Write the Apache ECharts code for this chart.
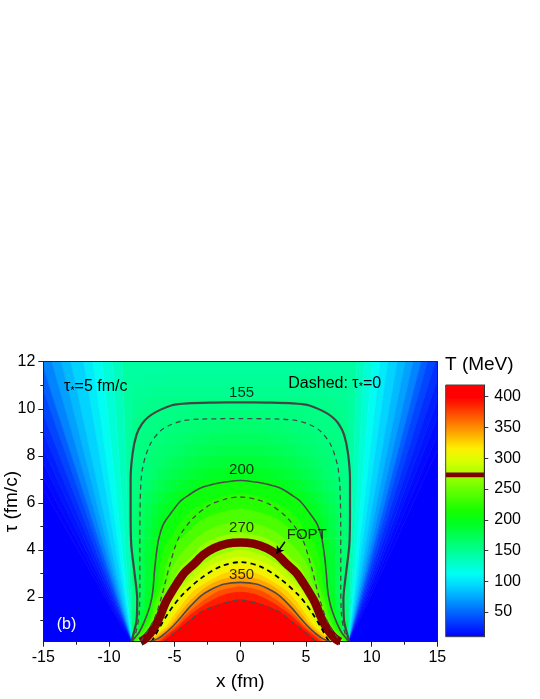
<!DOCTYPE html>
<html><head><meta charset="utf-8">
<script src="https://cdn.jsdelivr.net/npm/echarts@6/dist/echarts.min.js"></script>
<style>html,body{margin:0;padding:0;background:#fff}#c{width:540px;height:699px}</style>
</head><body><div id="c"></div>
<script>
// ---- interior grid of cell centres (fm, fm/c) ----
const xCenters = [-8,-7.5,-7,-6.5,-6,-5.5,-5,-4.5,-4,-3.5,-3,-2.5,-2,-1.5,-1,-0.5,0,0.5,1,1.5,2,2.5,3,3.5,4,4.5,5,5.5,6,6.5,7,7.5,8];
const tauCenters = [0.25,0.75,1.25,1.75,2.25,2.75,3.25,3.75,4.25,4.75,5.25,5.75,6.25,6.75,7.25,7.75,8.25,8.75,9.25,9.75,10.25,10.75,11.25,11.75];

// ---- temperature T (MeV) inside the fireball, one row per tau ----
const row_0_25 = [210,260,290,335,370,400,415,425,430,430,430,430,430,430,430,430,430,430,430,430,430,430,430,430,430,425,415,400,370,335,290,260,210];
const row_0_75 = [170,198,235,270,300,328,360,397,405,412,418,422,425,427,428,428,428,428,428,427,425,422,418,412,405,397,360,328,300,270,235,198,170];
const row_1_25 = [160,183,206,245,272,296,320,345,370,395,402,408,413,417,419,420,420,420,419,417,413,408,402,395,370,345,320,296,272,245,206,183,160];
const row_1_75 = [155,175,195,228,258,278,298,314,334,352,366,380,390,397,401,404,405,404,401,397,390,380,366,352,334,314,298,278,258,228,195,175,155];
const row_2_25 = [155,172,190,210,236,258,276,292,309,321,335,349,360,368,374,377,378,377,374,368,360,349,335,321,309,292,276,258,236,210,190,172,155];
const row_2_75 = [160,173,188,204,225,243,258,271,280,291,302,313,325,333,339,342,343,342,339,333,325,313,302,291,280,271,258,243,225,204,188,173,160];
const row_3_25 = [162,174,188,202,220,236,249,260,268,274,283,291,298,304,308,311,312,311,308,304,298,291,283,274,268,260,249,236,220,202,188,174,162];
const row_3_75 = [163,175,187,199,213,227,238,248,255,262,268,273,278,282,285,287,288,287,285,282,278,273,268,262,255,248,238,227,213,199,187,175,163];
const row_4_25 = [164,174,185,196,207,218,228,236,243,249,255,260,264,267,270,271,272,271,270,267,264,260,255,249,243,236,228,218,207,196,185,174,164];
const row_4_75 = [163,171,180,190,200,207,215,223,230,236,242,247,251,254,256,257,258,257,256,254,251,247,242,236,230,223,215,207,200,190,180,171,163];
const row_5_25 = [162,170,178,187,195,202,208,214,220,225,230,234,238,240,242,243,244,243,242,240,238,234,230,225,220,214,208,202,195,187,178,170,162];
const row_5_75 = [161,168,175,182,189,195,200,205,210,214,218,222,225,227,229,230,230,230,229,227,225,222,218,214,210,205,200,195,189,182,175,168,161];
const row_6_25 = [159,165,171,177,183,188,193,197,201,204,207,210,213,215,217,218,218,218,217,215,213,210,207,204,201,197,193,188,183,177,171,165,159];
const row_6_75 = [157,161,166,171,176,180,184,188,191,194,197,199,201,203,204,205,205,205,204,203,201,199,197,194,191,188,184,180,176,171,166,161,157];
const row_7_25 = [155,158,162,166,170,174,177,180,183,186,188,190,192,193,194,195,195,195,194,193,192,190,188,186,183,180,177,174,170,166,162,158,155];
const row_7_75 = [154,157,160,163,166,169,172,174,177,179,181,182,184,185,185,186,186,186,185,185,184,182,181,179,177,174,172,169,166,163,160,157,154];
const row_8_25 = [155,157,159,161,162,164,166,168,170,172,174,175,176,177,178,178,178,178,178,177,176,175,174,172,170,168,166,164,162,161,159,157,155];
const row_8_75 = [154,156,157,158,159,161,162,164,165,167,168,169,170,170,171,171,171,171,171,170,170,169,168,167,165,164,162,161,159,158,157,156,154];
const row_9_25 = [153,155,156,156,157,158,159,160,161,162,163,163,164,164,165,165,165,165,165,164,164,163,163,162,161,160,159,158,157,156,156,155,153];
const row_9_75 = [152,154,155,155,155,156,156,157,157,158,158,159,159,160,160,160,160,160,160,160,159,159,158,158,157,157,156,156,155,155,155,154,152];
const row_10_25 = [150,151,152,153,153,154,154,155,155,155,155,155,155,155,155,155,155,155,155,155,155,155,155,155,155,155,154,154,153,153,152,151,150];
const row_10_75 = [148,149,149,150,150,150,151,151,151,151,151,151,151,151,151,151,151,151,151,151,151,151,151,151,151,151,151,150,150,150,149,149,148];
const row_11_25 = [146,146,147,147,147,148,148,148,148,148,148,148,148,148,148,148,148,148,148,148,148,148,148,148,148,148,148,148,147,147,147,146,146];
const row_11_75 = [143,144,144,144,145,145,145,145,145,145,145,145,145,145,145,145,145,145,145,145,145,145,145,145,145,145,145,145,145,144,144,144,143];
const T_rows = [row_0_25,row_0_75,row_1_25,row_1_75,row_2_25,row_2_75,row_3_25,row_3_75,row_4_25,row_4_75,row_5_25,row_5_75,row_6_25,row_6_75,row_7_25,row_7_75,row_8_25,row_8_75,row_9_25,row_9_75,row_10_25,row_10_75,row_11_25,row_11_75];

// ---- rarefaction fans: T is constant along rays from the fireball edge ----
const fanOriginX = [-8.25, 8.25];
const fanRaySpeedLeft  = [0,0.06,0.125,0.19,0.25,0.31,0.39,0.45,0.51,0.575,0.625,0.69,0.75,0.81,0.875,0.95,1.025,60];
const fanRaySpeedRight = [0,0.05,0.1,0.15,0.2,0.25,0.31,0.36,0.41,0.46,0.5,0.55,0.6,0.65,0.7,0.76,0.82,60];
const fanBandT_left  = [145,134,124,113,103,92,82,72,61,47,37,28,22,18,14,11,10];
const fanBandT_right = [145,134,124,113,103,92,82,72,61,47,37,28,22,18,14,11,10];

// ---- contour lines [x, tau] ----
const c155_solid = [[-8.3,0.1],[-8.1,0.5],[-7.9,1.0],[-7.85,1.9],[-8.05,3.0],[-8.3,4.2],[-8.35,5.5],[-8.35,7.0],[-8.2,8.1],[-7.9,8.9],[-7.5,9.35],[-7.0,9.65],[-6.3,9.9],[-5.2,10.15],[-4.0,10.23],[-2.0,10.26],[0,10.27],[2.0,10.26],[4.0,10.23],[5.2,10.15],[6.3,9.9],[7.0,9.65],[7.5,9.35],[7.9,8.9],[8.2,8.1],[8.35,7.0],[8.35,5.5],[8.3,4.2],[8.05,3.0],[7.85,1.9],[7.9,1.0],[8.1,0.5],[8.3,0.1]];
const c155_dashed = [[-8.2,0.1],[-7.9,0.6],[-7.7,1.3],[-7.65,2.5],[-7.65,4.0],[-7.62,6.1],[-7.45,7.45],[-6.9,8.45],[-6.1,9.05],[-5.3,9.32],[-4.3,9.5],[-3,9.56],[0,9.58],[3,9.56],[4.3,9.5],[5.3,9.32],[6.1,9.05],[6.9,8.45],[7.45,7.45],[7.62,6.1],[7.65,4.0],[7.65,2.5],[7.7,1.3],[7.9,0.6],[8.2,0.1]];
const c200_solid = [[-8.25,0.1],[-8.1,0.22],[-7.7,0.5],[-7.35,0.9],[-7.0,1.4],[-6.8,1.8],[-6.65,2.3],[-6.55,3.0],[-6.4,3.8],[-6.2,4.5],[-5.85,5.1],[-5.3,5.55],[-4.6,6.05],[-4.0,6.3],[-3.07,6.62],[-2,6.8],[-1,6.9],[0,6.95],[1,6.9],[2,6.8],[3.07,6.62],[4.0,6.3],[4.6,6.05],[5.3,5.55],[5.85,5.1],[6.2,4.5],[6.4,3.8],[6.55,3.0],[6.65,2.3],[6.8,1.8],[7.0,1.4],[7.35,0.9],[7.7,0.5],[8.1,0.22],[8.25,0.1]];
const c200_dashed = [[-7.6,0.1],[-7.3,0.35],[-6.6,1.0],[-6.0,2.0],[-5.4,3.3],[-4.7,4.5],[-3.6,5.35],[-2.3,5.92],[-1.2,6.15],[0,6.25],[1.2,6.15],[2.3,5.92],[3.6,5.35],[4.7,4.5],[5.4,3.3],[6.0,2.0],[6.6,1.0],[7.3,0.35],[7.6,0.1]];
const c270_band = [[-7.6,0.1],[-7.3,0.2],[-6.9,0.42],[-6.4,0.85],[-6.1,1.2],[-5.7,1.75],[-5.35,2.1],[-4.85,2.55],[-4.3,3.0],[-3.5,3.42],[-2.8,3.8],[-2,4.08],[-1,4.27],[0,4.32],[1,4.27],[2,4.08],[2.8,3.8],[3.5,3.42],[4.3,3.0],[4.85,2.55],[5.35,2.1],[5.7,1.75],[6.1,1.2],[6.4,0.85],[6.9,0.42],[7.3,0.2],[7.6,0.1]];
const c270_dashed = [[-6.8,0.1],[-6.6,0.25],[-6.1,0.75],[-5.5,1.3],[-5.0,1.7],[-4.4,2.1],[-3.05,2.77],[-1.5,3.3],[0,3.48],[1.5,3.3],[3.05,2.77],[4.4,2.1],[5.0,1.7],[5.5,1.3],[6.1,0.75],[6.6,0.25],[6.8,0.1]];
const c350_solid = [[-6.9,0.1],[-6.3,0.22],[-5.8,0.42],[-5.1,0.78],[-4.5,1.15],[-3.9,1.55],[-3.0,2.05],[-2.3,2.3],[-1.2,2.55],[0,2.62],[1.2,2.55],[2.3,2.3],[3.0,2.05],[3.9,1.55],[4.5,1.15],[5.1,0.78],[5.8,0.42],[6.3,0.22],[6.9,0.1]];
const c350_dashed = [[-5.8,0.1],[-5.3,0.33],[-4.6,0.65],[-3.9,0.95],[-3.05,1.35],[-1.8,1.62],[0,1.87],[1.8,1.62],[3.05,1.35],[3.9,0.95],[4.6,0.65],[5.3,0.33],[5.8,0.1]];

// ---- colour-fill level boundaries of the hot core (tau*=5), [x, tau] ----
const dome215 = [[-8.15,0],[-7.95,0.25],[-7.28,0.75],[-6.88,1.25],[-6.72,1.75],[-6.4,2.25],[-6.24,2.75],[-6.14,3.25],[-5.93,3.75],[-5.64,4.25],[-5.0,4.75],[-4.46,5.25],[-3.5,5.75],[-1.5,6.25],[0,6.37],[1.5,6.25],[3.5,5.75],[4.46,5.25],[5.0,4.75],[5.64,4.25],[5.93,3.75],[6.14,3.25],[6.24,2.75],[6.4,2.25],[6.72,1.75],[6.88,1.25],[7.28,0.75],[7.95,0.25],[8.15,0]];
const dome230 = [[-8.0,0],[-7.8,0.25],[-7.07,0.75],[-6.69,1.25],[-6.47,1.75],[-6.12,2.25],[-5.81,2.75],[-5.69,3.25],[-5.36,3.75],[-4.88,4.25],[-4.0,4.75],[-3.0,5.25],[-1.7,5.55],[0,5.75],[1.7,5.55],[3.0,5.25],[4.0,4.75],[4.88,4.25],[5.36,3.75],[5.69,3.25],[5.81,2.75],[6.12,2.25],[6.47,1.75],[6.69,1.25],[7.07,0.75],[7.8,0.25],[8.0,0]];
const dome245 = [[-7.85,0],[-7.65,0.25],[-6.86,0.75],[-6.5,1.25],[-6.22,1.75],[-5.8,2.25],[-5.43,2.75],[-5.19,3.25],[-4.65,3.75],[-3.83,4.25],[-2.75,4.75],[-1.5,5.05],[0,5.21],[1.5,5.05],[2.75,4.75],[3.83,4.25],[4.65,3.75],[5.19,3.25],[5.43,2.75],[5.8,2.25],[6.22,1.75],[6.5,1.25],[6.86,0.75],[7.65,0.25],[7.85,0]];
const dome258 = [[-7.75,0],[-7.52,0.25],[-6.67,0.75],[-6.26,1.25],[-6.0,1.75],[-5.5,2.25],[-5.0,2.75],[-4.59,3.25],[-3.64,3.75],[-2.8,4.25],[-1.6,4.55],[0,4.72],[1.6,4.55],[2.8,4.25],[3.64,3.75],[4.59,3.25],[5.0,2.75],[5.5,2.25],[6.0,1.75],[6.26,1.25],[6.67,0.75],[7.52,0.25],[7.75,0]];
const dome280 = [[-7.4,0],[-7.17,0.25],[-6.33,0.75],[-5.83,1.25],[-5.45,1.75],[-4.88,2.25],[-4.0,2.75],[-3.17,3.25],[-1.75,3.75],[0,4.0],[1.75,3.75],[3.17,3.25],[4.0,2.75],[4.88,2.25],[5.45,1.75],[5.83,1.25],[6.33,0.75],[7.17,0.25],[7.4,0]];
const dome290 = [[-7.25,0],[-7.0,0.25],[-6.17,0.75],[-5.63,1.25],[-5.2,1.75],[-4.56,2.25],[-3.55,2.75],[-2.56,3.25],[-1.3,3.55],[0,3.71],[1.3,3.55],[2.56,3.25],[3.55,2.75],[4.56,2.25],[5.2,1.75],[5.63,1.25],[6.17,0.75],[7.0,0.25],[7.25,0]];
const dome305 = [[-7.1,0],[-6.83,0.25],[-5.9,0.75],[-5.31,1.25],[-4.78,1.75],[-4.12,2.25],[-2.86,2.75],[-1.38,3.25],[0,3.4],[1.38,3.25],[2.86,2.75],[4.12,2.25],[4.78,1.75],[5.31,1.25],[5.9,0.75],[6.83,0.25],[7.1,0]];
const dome320 = [[-6.95,0],[-6.67,0.25],[-5.63,0.75],[-5.0,1.25],[-4.35,1.75],[-3.54,2.25],[-2.13,2.75],[-1.2,3.0],[0,3.12],[1.2,3.0],[2.13,2.75],[3.54,2.25],[4.35,1.75],[5.0,1.25],[5.63,0.75],[6.67,0.25],[6.95,0]];
const dome335 = [[-6.8,0],[-6.5,0.25],[-5.39,0.75],[-4.7,1.25],[-3.97,1.75],[-3.0,2.25],[-2.2,2.55],[-1.33,2.75],[0,2.88],[1.33,2.75],[2.2,2.55],[3.0,2.25],[3.97,1.75],[4.7,1.25],[5.39,0.75],[6.5,0.25],[6.8,0]];
const dome365 = [[-6.4,0],[-6.07,0.25],[-4.93,0.75],[-4.1,1.25],[-3.04,1.75],[-1.63,2.25],[0,2.44],[1.63,2.25],[3.04,1.75],[4.1,1.25],[4.93,0.75],[6.07,0.25],[6.4,0]];
const dome380 = [[-6.2,0],[-5.83,0.25],[-4.73,0.75],[-3.8,1.25],[-2.5,1.75],[-1.2,2.1],[0,2.21],[1.2,2.1],[2.5,1.75],[3.8,1.25],[4.73,0.75],[5.83,0.25],[6.2,0]];
const dome398 = [[-6.0,0],[-5.53,0.25],[-4.44,0.75],[-3.29,1.25],[-2.3,1.55],[-1.31,1.75],[0,1.88],[1.31,1.75],[2.3,1.55],[3.29,1.25],[4.44,0.75],[5.53,0.25],[6.0,0]];
const domeShapes = [c200_solid, dome215, dome230, dome245, dome258, dome280, dome290, dome305, dome320, dome335, c350_solid, dome365, dome380, dome398];
const domeFillT  = [207, 222, 237, 251, 269, 285, 297, 312, 327, 342, 357, 372, 389, 415];

const contourLabels = [['155',0.1,10.66],['200',0.1,7.4],['270',0.1,4.92],['350',0.1,2.94],['FOPT',5.06,4.63]];
const foptArrow = [[3.4,4.35],[2.76,3.85]];

// ---- colour bar ----
const cbRange = [10, 419];
const cbTicks = [50,100,150,200,250,300,350,400];
const foptBand = [269, 277];
const palette = ['#0000ff','rgb(0,53,255)','rgb(0,106,255)','rgb(0,159,255)','rgb(0,212,255)','rgb(0,255,244)','rgb(0,255,191)','rgb(0,255,138)','rgb(0,255,85)','rgb(0,255,32)','rgb(20,255,0)','rgb(70,255,0)','rgb(120,255,0)','rgb(170,255,0)','rgb(220,255,0)','rgb(255,237,0)','rgb(255,178,0)','rgb(255,119,0)','rgb(255,59,0)','rgb(255,0,0)','rgb(255,0,0)'];

const F = "'Liberation Sans', Arial, Helvetica, sans-serif";
const DX = xCenters[1] - xCenters[0];
const DT = tauCenters[1] - tauCenters[0];
const TAU_TOP = 12;

const heatData = [];
const bad = [];
T_rows.forEach(function (row, j) {
  if (row.length !== xCenters.length) bad.push(tauCenters[j] + ':' + row.length);
  row.forEach(function (T, i) { heatData.push([xCenters[i], tauCenters[j], T]); });
});
const fanData = [];
[[fanRaySpeedLeft, fanBandT_left, fanOriginX[0]], [fanRaySpeedRight, fanBandT_right, fanOriginX[1]]].forEach(function (f) {
  for (let i = 0; i < f[1].length; i++) fanData.push([f[0][i], f[0][i + 1], f[1][i], f[2]]);
});
const domeData = domeFillT.map(function (T, i) { return [i, 0, T]; });

const chart = echarts.init(document.getElementById('c'), null, {renderer: 'canvas'});

function contour(data, color, width, type, z) {
  return {type: 'line', xAxisIndex: 0, yAxisIndex: 0, data: data, showSymbol: false, symbol: 'none',
    smooth: 0.3, z: z || 4, silent: true,
    lineStyle: {color: color, width: width, type: type || 'solid', cap: 'butt'}};
}

const gradStops = palette.map(function (c, i) { return {offset: i / (palette.length - 1), color: c}; });
const subRich = {a: {fontSize: 16, fontFamily: F, fill: '#000', color: '#000'}, s: {fontSize: 11, fontFamily: F, fill: '#000', color: '#000', padding: [7, 0, 0, 0]}};

const graphics = [
  {type: 'text', x: 64, y: 387, z: 100, style: {text: '{a|τ}{s|*}{a|=5 fm/c}', verticalAlign: 'middle', rich: subRich}},
  {type: 'text', x: 288.3, y: 383.3, z: 100, style: {text: '{a|Dashed: τ}{s|*}{a|=0}', verticalAlign: 'middle', rich: subRich}},
  {type: 'text', x: 56.7, y: 625, z: 100, style: {text: '(b)', fontSize: 16, fontFamily: F, fill: '#fff', verticalAlign: 'middle'}},
  {type: 'text', x: 445, y: 365, z: 100, style: {text: 'T (MeV)', fontSize: 19, fontFamily: F, fill: '#000', verticalAlign: 'middle'}}
];
if (bad.length) graphics.push({type: 'text', x: 5, y: 5, z: 200, style: {text: 'BAD ROWS ' + bad.join(' '), fontSize: 12, fill: 'red'}});

const option = {
  animation: false,
  backgroundColor: '#fff',
  grid: [
    {left: 43.3, top: 361.7, width: 394, height: 280, show: false, containLabel: false, outerBoundsMode: 'none'},
    {left: 445.7, top: 385, width: 38.6, height: 251.7, show: false, containLabel: false, outerBoundsMode: 'none'}
  ],
  xAxis: [
    {gridIndex: 0, type: 'value', min: -15, max: 15, interval: 5, position: 'bottom', z: 10,
      axisLine: {show: true, onZero: false, lineStyle: {color: '#222', width: 1}},
      axisTick: {show: true, inside: false, length: 5, lineStyle: {color: '#222'}},
      minorTick: {show: true, splitNumber: 2, length: 3, lineStyle: {color: '#222'}},
      axisLabel: {fontSize: 16, color: '#000', fontFamily: F, margin: 8},
      splitLine: {show: false}, minorSplitLine: {show: false},
      name: 'x (fm)', nameLocation: 'middle', nameGap: 31, nameMoveOverlap: false,
      nameTextStyle: {fontSize: 19, color: '#000', fontFamily: F}},
    {gridIndex: 0, type: 'value', min: -15, max: 15, position: 'top', z: 10,
      axisLine: {show: true, onZero: false, lineStyle: {color: '#222', width: 1}},
      axisTick: {show: false}, axisLabel: {show: false}, splitLine: {show: false}},
    {gridIndex: 1, type: 'value', min: 0, max: 1, show: false}
  ],
  yAxis: [
    {gridIndex: 0, type: 'value', min: 0.1, max: 12, position: 'left', z: 10,
      axisLine: {show: true, onZero: false, lineStyle: {color: '#222', width: 1}},
      axisTick: {show: true, length: 5, customValues: [2, 4, 6, 8, 10, 12], lineStyle: {color: '#222'}},
      axisLabel: {fontSize: 16, color: '#000', fontFamily: F, margin: 8, customValues: [2, 4, 6, 8, 10, 12]},
      splitLine: {show: false},
      name: 'τ (fm/c)', nameLocation: 'middle', nameGap: 22, nameMoveOverlap: false,
      nameTextStyle: {fontSize: 19, color: '#000', fontFamily: F}},
    {gridIndex: 0, type: 'value', min: 0.1, max: 12, position: 'left', z: 10,
      axisLine: {show: false, onZero: false}, axisLabel: {show: false}, splitLine: {show: false},
      axisTick: {show: true, length: 3, customValues: [1, 3, 5, 7, 9, 11], lineStyle: {color: '#222'}}},
    {gridIndex: 0, type: 'value', min: 0.1, max: 12, position: 'right', z: 10,
      axisLine: {show: true, onZero: false, lineStyle: {color: '#222', width: 1}},
      axisTick: {show: false}, axisLabel: {show: false}, splitLine: {show: false}},
    {gridIndex: 1, type: 'value', min: cbRange[0], max: cbRange[1], position: 'right', z: 10,
      axisLine: {show: true, onZero: false, lineStyle: {color: '#333', width: 1}},
      axisTick: {show: true, length: 4, customValues: cbTicks, lineStyle: {color: '#333'}},
      axisLabel: {customValues: cbTicks, fontSize: 16, color: '#000', fontFamily: F, margin: 10},
      splitLine: {show: false}}
  ],
  visualMap: {type: 'continuous', show: false, seriesIndex: [0, 1, 2], dimension: 2,
    min: cbRange[0], max: cbRange[1], inRange: {color: palette}, outOfRange: {color: '#ff0000'}},
  graphic: graphics,
  series: [
    {type: 'custom', xAxisIndex: 0, yAxisIndex: 0, data: heatData, clip: true, z: 1, silent: true,
      dimensions: ['x', 'tau', 'T'], encode: {x: 0, y: 1},
      renderItem: function (params, api) {
        const x = api.value(0), t = api.value(1);
        const p0 = api.coord([x - DX / 2, t + DT / 2]);
        const p1 = api.coord([x + DX / 2, t - DT / 2]);
        return {type: 'rect', shape: {x: p0[0] - 0.5, y: p0[1], width: p1[0] - p0[0] + 1, height: p1[1] - p0[1] + 0.7},
          style: {fill: api.visual('color')}};
      }},
    {type: 'custom', xAxisIndex: 0, yAxisIndex: 0, data: fanData, clip: true, z: 1.5, silent: true,
      dimensions: ['v1', 'v2', 'T', 'x0'], encode: {x: [], y: []},
      renderItem: function (params, api) {
        const v1 = api.value(0), v2 = api.value(1), x0 = api.value(3);
        const s = x0 < 0 ? -1 : 1;
        const o = api.coord([x0, 0]);
        const a = api.coord([x0 + s * v1 * TAU_TOP, TAU_TOP]);
        const b = api.coord([x0 + s * v2 * TAU_TOP, TAU_TOP]);
        const col = api.visual('color');
        return {type: 'polygon', shape: {points: [o, a, b]}, style: {fill: col, stroke: col, lineWidth: 0.6}};
      }},
    {type: 'custom', xAxisIndex: 0, yAxisIndex: 0, data: domeData, clip: true, z: 1.7, silent: true,
      dimensions: ['k', 'none', 'T'], encode: {x: [], y: []},
      renderItem: function (params, api) {
        const shape = domeShapes[api.value(0)];
        const pts = shape.map(function (p) { return api.coord(p); });
        pts.unshift(api.coord([shape[0][0], -1]));
        pts.push(api.coord([shape[shape.length - 1][0], -1]));
        const col = api.visual('color');
        return {type: 'polygon', shape: {points: pts, smooth: 0.25}, style: {fill: col, stroke: col, lineWidth: 0.5}};
      }},
    {type: 'custom', xAxisIndex: 2, yAxisIndex: 3, data: [[0, cbRange[0], cbRange[1], foptBand[0], foptBand[1]]], z: 2, silent: true,
      renderItem: function (params, api) {
        const a = api.coord([0, api.value(1)]), b = api.coord([1, api.value(2)]);
        const c = api.coord([0, api.value(3)]), d = api.coord([1, api.value(4)]);
        return {type: 'group', children: [
          {type: 'rect', shape: {x: a[0], y: b[1], width: b[0] - a[0], height: a[1] - b[1]},
            style: {fill: new echarts.graphic.LinearGradient(0, 1, 0, 0, gradStops)}},
          {type: 'rect', shape: {x: a[0], y: d[1], width: b[0] - a[0], height: c[1] - d[1]}, style: {fill: '#800000'}},
          {type: 'rect', shape: {x: a[0], y: b[1], width: b[0] - a[0], height: a[1] - b[1]},
            style: {fill: 'none', stroke: '#444', lineWidth: 1}}
        ]};
      }},
    contour(c270_band, '#800000', 8.5, 'solid', 3),
    contour(c155_solid, '#444', 2.2, 'solid'),
    contour(c155_dashed, '#4a4a4a', 1.3, [5, 4]),
    contour(c200_solid, '#4a4a4a', 1.6, 'solid'),
    contour(c200_dashed, '#4a4a4a', 1.3, [5, 4]),
    contour(c270_dashed, '#000', 1.8, [5, 4]),
    contour(c350_solid, '#4a4a4a', 1.6, 'solid'),
    contour(c350_dashed, '#4a4a4a', 1.3, [5, 4]),
    {type: 'lines', coordinateSystem: 'cartesian2d', xAxisIndex: 0, yAxisIndex: 0, z: 6, silent: true,
      symbol: ['none', 'arrow'], symbolSize: 7,
      lineStyle: {color: '#000', width: 1.5, curveness: 0, opacity: 1},
      data: [{coords: foptArrow}]},
    {type: 'scatter', xAxisIndex: 0, yAxisIndex: 0, z: 7, silent: true, symbolSize: 1,
      itemStyle: {color: 'transparent'},
      data: contourLabels.map(function (d) { return {name: d[0], value: [d[1], d[2]]}; }),
      label: {show: true, position: 'inside', formatter: '{b}', fontSize: 15, color: '#000', fontFamily: F}}
  ]
};
chart.setOption(option);
</script>
</body></html>
